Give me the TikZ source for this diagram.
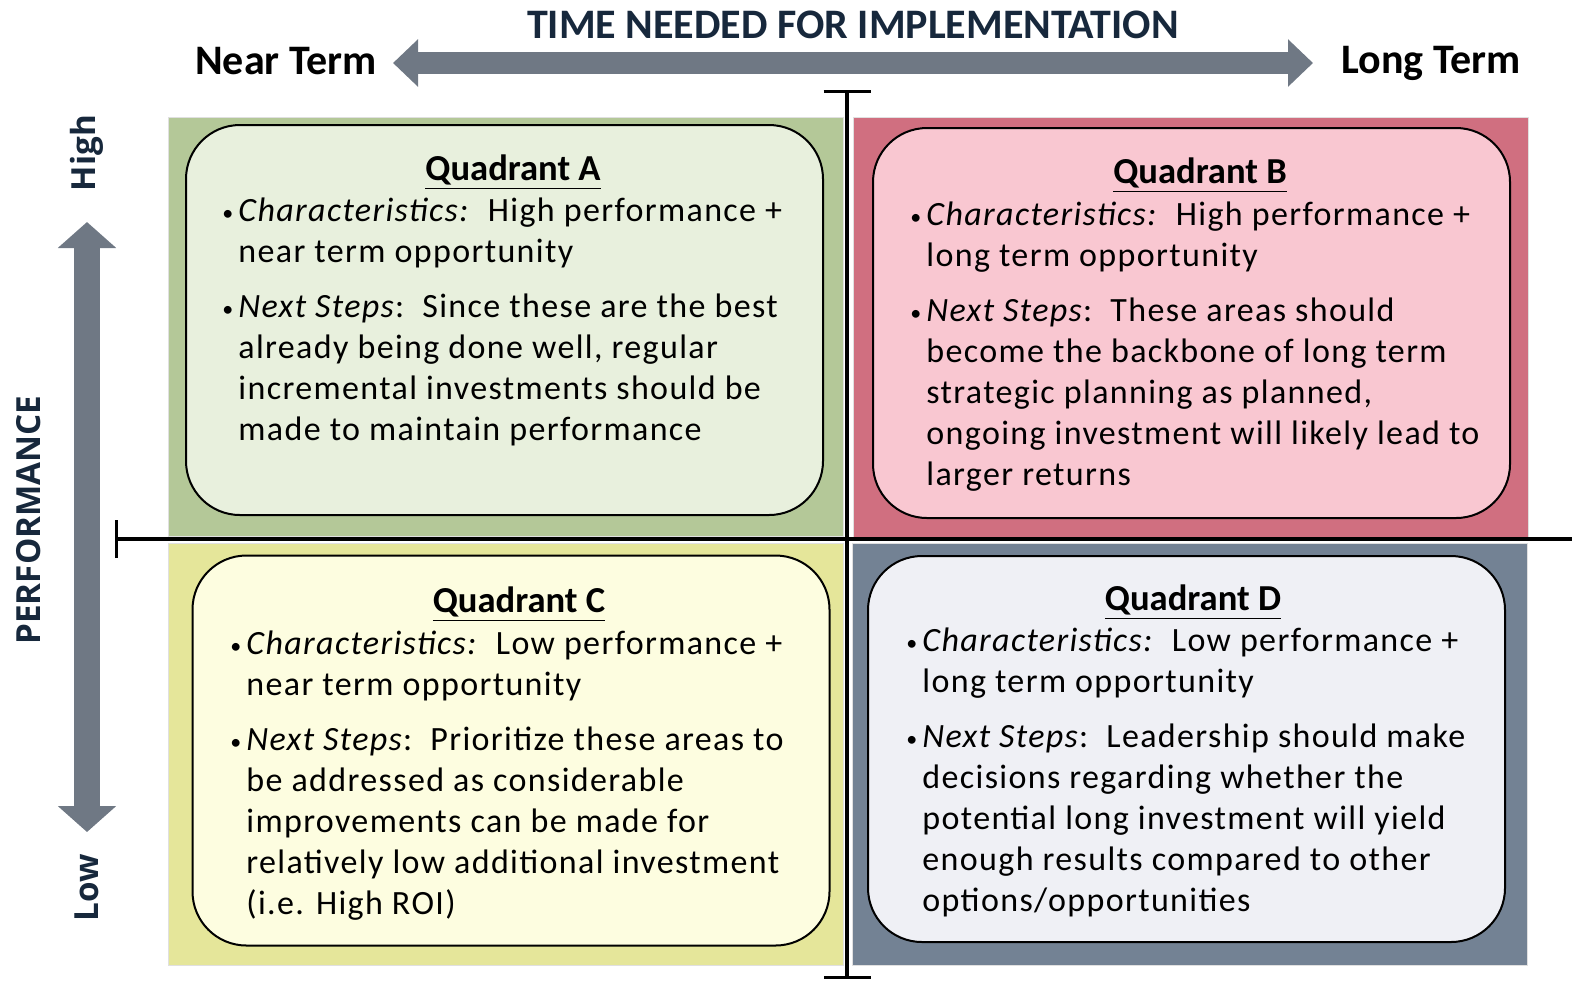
\documentclass[tikz,border=0pt]{standalone}
\usepackage{fontspec}
\setmainfont{Carlito}
\newfontfamily\bodyfont[LetterSpace=4]{Carlito}
\newfontfamily\axisfont{Open Sans}
\usetikzlibrary{arrows.meta,positioning}
\usepackage{xcolor}
\definecolor{axisgray}{HTML}{6F7884}
\definecolor{navy}{HTML}{17283C}
\definecolor{qagreen}{HTML}{B4C898}
\definecolor{qapale}{HTML}{E8F0DD}
\definecolor{qbred}{HTML}{D06F80}
\definecolor{qbpale}{HTML}{F9C7D1}
\definecolor{qcyellow}{HTML}{E5E69A}
\definecolor{qcpale}{HTML}{FDFDE0}
\definecolor{qdslate}{HTML}{738294}
\definecolor{qdpale}{HTML}{EFF0F5}
\newcommand{\bul}{\makebox[8pt][l]{\raisebox{0.5pt}{\fontsize{11}{11}\selectfont\textbullet}}}
\newcommand{\ind}{\hspace*{8pt}}
\tikzset{
  quad/.style    = {rectangle, draw=black!12, anchor=north west, inner sep=0pt,
                    minimum width=337.5pt},
  card/.style    = {rectangle, draw, line width=1pt, rounded corners=27pt,
                    minimum width=318.5pt, minimum height=195pt},
  qtitle/.style  = {font=\fontsize{18.3}{20}\selectfont\bfseries, inner sep=0pt},
  qbody/.style   = {font=\bodyfont\fontsize{17}{20.5}\selectfont, align=left,
                    anchor=north west, inner sep=0pt},
  bigarrow/.style= {draw=axisgray, line width=11pt,
                    {Triangle[width=23pt,length=12.5pt]}-{Triangle[width=23pt,length=12.5pt]}},
  uparrow/.style = {draw=axisgray, line width=13pt,
                    {Triangle[width=28.5pt,length=13pt]}-{Triangle[width=28.5pt,length=13pt]}},
  axisline/.style= {line width=1.6pt},
  axislbl/.style = {font=\fontsize{21}{24}\selectfont\bfseries, inner sep=0pt},
  perflbl/.style = {font=\axisfont\fontsize{16.6}{18}\selectfont\bfseries, text=navy,
                    inner sep=0pt, rotate=90},
}
\begin{document}
\begin{tikzpicture}[x=0.5pt, y=-0.5pt]
  \useasboundingbox (0,0) rectangle (1572,982);

  % quadrant backgrounds
  \node[quad, fill=qagreen,  minimum height=209.5pt] (qa) at (168,117) {};
  \node[quad, fill=qbred,    minimum height=210pt]   (qb) at (853,117) {};
  \node[quad, fill=qcyellow, minimum height=211pt]   (qc) at (168,543) {};
  \node[quad, fill=qdslate,  minimum height=211pt]   (qd) at (852,543) {};

  % rounded cards
  \node[card, fill=qapale] (cardA) at (504.5,320) {};
  \node[card, fill=qbpale] (cardB) at (1191.5,323) {};
  \node[card, fill=qcpale] (cardC) at (511,750.5) {};
  \node[card, fill=qdpale, minimum height=193pt] (cardD) at (1186.5,749) {};

  % axes with end bars
  \coordinate (vtop) at (847,90);
  \coordinate (vbot) at (847,979);
  \coordinate (hleft) at (115,539);
  \coordinate (hright) at (1580,539);
  \draw[axisline, {Bar[width=23.5pt,length=0pt]}-{Bar[width=23.5pt,length=0pt]}] (vtop) -- (vbot);
  \draw[axisline, {Bar[width=19pt,length=0pt]}-] (hleft) -- (hright);

  % time arrow
  \coordinate (tnear) at (393,63);
  \coordinate (tlong) at (1313,63);
  \draw[bigarrow] (tnear) -- (tlong);
  \node[font=\fontsize{21}{24}\selectfont\bfseries, text=navy, inner sep=0pt]
    (time) at (853,25) {TIME NEEDED FOR IMPLEMENTATION};
  \node[axislbl, left=8pt of tnear, yshift=1pt] (near) {Near Term};
  \node[axislbl, right=14pt of tlong] (long) {Long Term};

  % performance arrow
  \coordinate (phigh) at (87,222);
  \coordinate (plow) at (87,832);
  \draw[uparrow] (plow) -- (phigh);
  \node[perflbl] (high) at (87,153) {High};
  \node[perflbl] (low) at (87,888) {Low};
  \node[perflbl] (perf) at (29,520) {PERFORMANCE};

  % Quadrant A
  \node[qtitle] (titleA) at (513,172) {\underline{Quadrant A}};
  \node[qbody] (textA) at (222,197) {%
    \bul\textit{Characteristics:}\ \ High performance +\\
    \ind near term opportunity\\[7pt]
    \bul\textit{Next Steps}:\ \ Since these are the best\\
    \ind already being done well, regular\\
    \ind incremental investments should be\\
    \ind made to maintain performance};

  % Quadrant B
  \node[qtitle] (titleB) at (1200,175) {\underline{Quadrant B}};
  \node[qbody] (textB) at (910,201) {%
    \bul\textit{Characteristics:}\ \ High performance +\\
    \ind long term opportunity\\[7pt]
    \bul\textit{Next Steps}:\ \ These areas should\\
    \ind become the backbone of long term\\
    \ind strategic planning as planned,\\
    \ind ongoing investment will likely lead to\\
    \ind larger returns};

  % Quadrant C
  \node[qtitle] (titleC) at (519,604) {\underline{Quadrant C}};
  \node[qbody] (textC) at (230,630) {%
    \bul\textit{Characteristics:}\ \ Low performance +\\
    \ind near term opportunity\\[7pt]
    \bul\textit{Next Steps}:\ \ Prioritize these areas to\\
    \ind be addressed as considerable\\
    \ind improvements can be made for\\
    \ind relatively low additional investment\\
    \ind (i.e. High ROI)};

  % Quadrant D
  \node[qtitle] (titleD) at (1193,602) {\underline{Quadrant D}};
  \node[qbody] (textD) at (906,627) {%
    \bul\textit{Characteristics:}\ \ Low performance +\\
    \ind long term opportunity\\[7pt]
    \bul\textit{Next Steps}:\ \ Leadership should make\\
    \ind decisions regarding whether the\\
    \ind potential long investment will yield\\
    \ind enough results compared to other\\
    \ind options/opportunities};
\end{tikzpicture}
\end{document}
